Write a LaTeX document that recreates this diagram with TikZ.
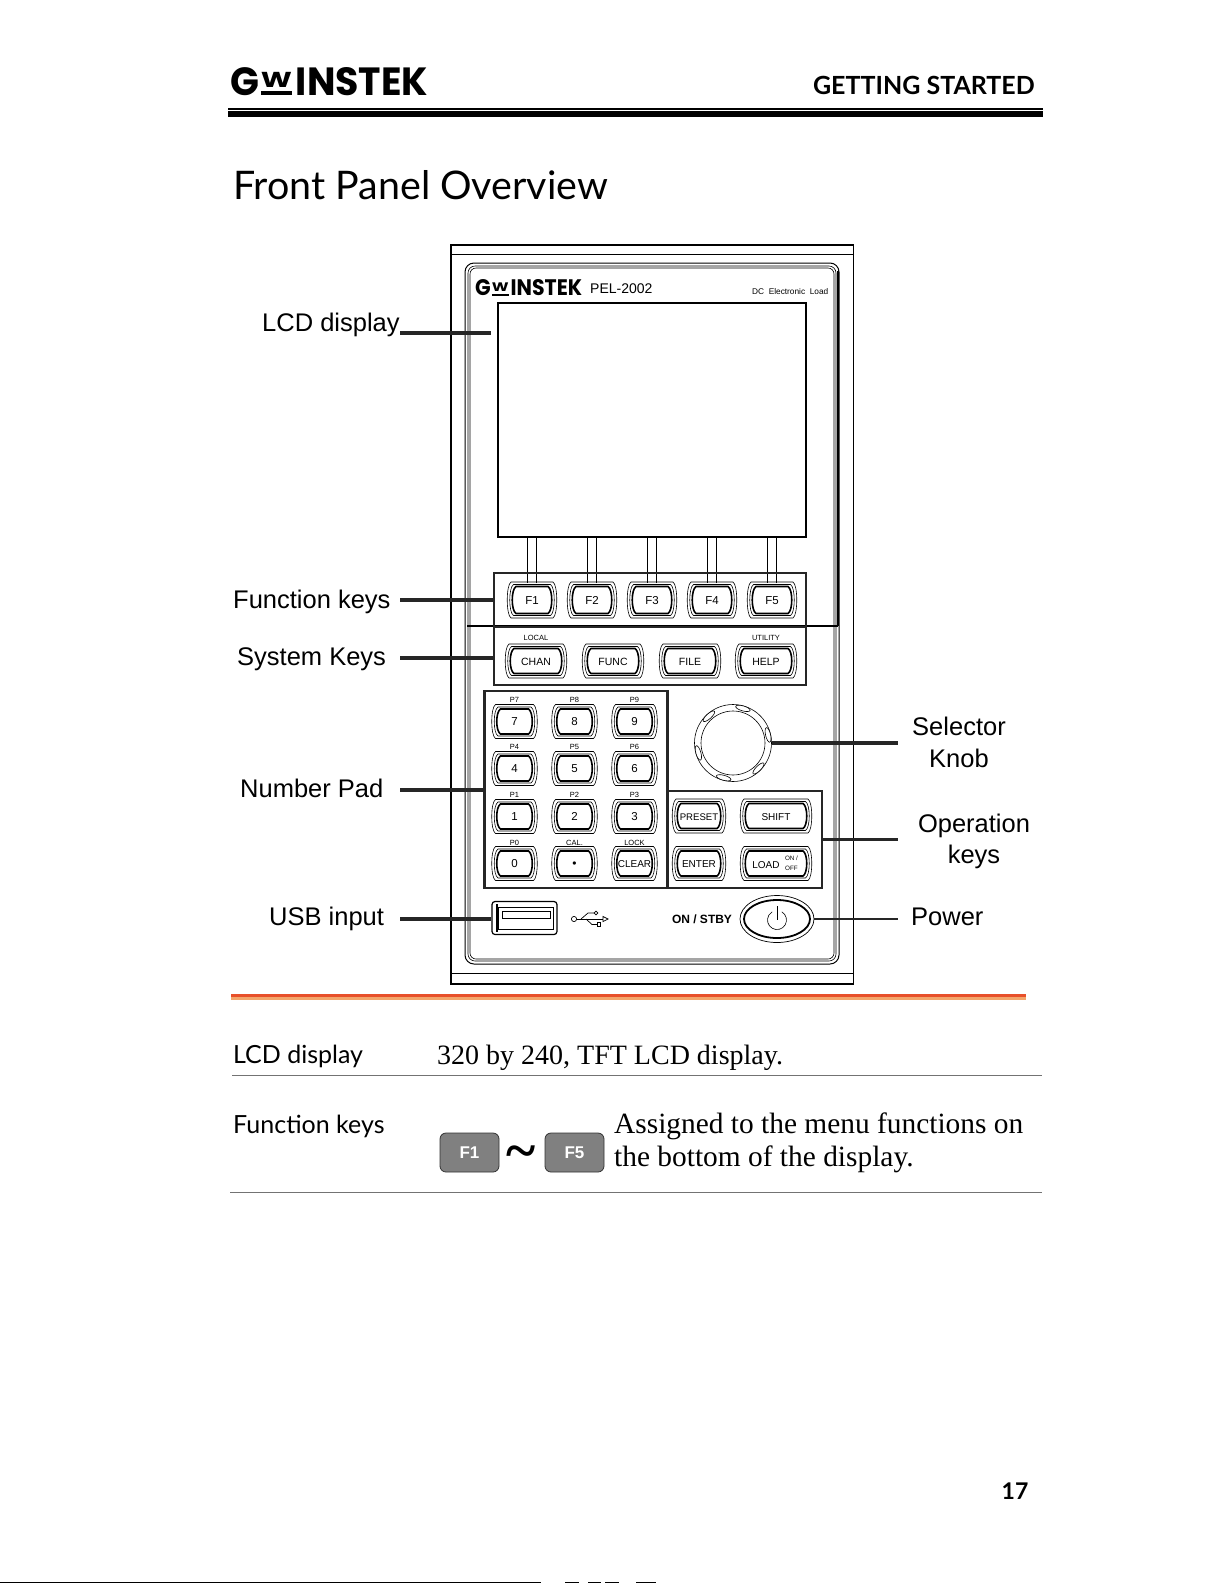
\documentclass[tikz,border=0pt]{standalone}
\usepackage{graphicx}
\usepackage{fontspec}
\setmainfont{Liberation Sans}
\newfontfamily\bodyfont{Liberation Serif}
\newfontfamily\headfont{Lato}
\newfontfamily\logofont{Poppins}
\usetikzlibrary{shapes}
\usetikzlibrary{positioning}
\usetikzlibrary{calc}

\definecolor{rulegray}{gray}{0.45}
\definecolor{keygray}{gray}{0.5}
\definecolor{barred}{HTML}{E8502A}
\definecolor{barorange}{HTML}{F3A66B}

\newcommand{\pts}[1]{\fontsize{#1}{#1}\selectfont}
\newcommand{\gwlogo}[2]{\resizebox{#1pt}{#2pt}{\logofont\bfseries G\kern.05em\ooalign{\raisebox{.2em}{\scalebox{.78}[.55]{W}}\cr\leaders\hrule height .1em\hfill\cr}\kern.1em INSTEK}}
\newcommand{\barrel}[5]{
    \pgfmathsetmacro{\bw}{#4}
    \pgfmathsetmacro{\bh}{#5}
    \draw[#1] (#2+\bw-4,#3-\bh) .. controls (#2+\bw+1,#3-\bh+3) and (#2+\bw+1,#3+\bh-3) .. (#2+\bw-4,#3+\bh) -- (#2-\bw+4,#3+\bh) .. controls (#2-\bw-1,#3+\bh-3) and (#2-\bw-1,#3-\bh+3) .. (#2-\bw+4,#3-\bh) -- cycle;
}
\newcommand{\keycap}[6]{
    \barrel{line width=.6}{#2}{#3}{#4}{#5}
    \barrel{line width=.6}{#2}{#3}{#4-2.5}{#5-2.5}
    \barrel{line width=1.6}{#2}{#3}{#4-5}{#5-4.5}
    \node[keytext] (#1) at (#2,#3) {#6};
}

\tikzset{
    keytext/.style={font=\pts{11.5}, inner sep=0, text height=8, text depth=0},
    toptext/.style={font=\pts{7.5}, inner sep=0},
    panelbox/.style={draw=black!85, line width=2.8, minimum width=10, inner sep=0},
    leader/.style={draw=black!85, line width=3.6},
    calltext/.style={font=\pts{25.5}, inner sep=0, align=center},
    headtext/.style={font=\headfont\pts{25}, inner sep=0, anchor=base west},
    bodytext/.style={font=\bodyfont\pts{29.4}, inner sep=0, anchor=base west},
    greykey/.style={draw=black!80, fill=keygray, rounded corners=6, line width=.8, minimum width=59, minimum height=39, inner sep=0, text=white, font=\bfseries\pts{17}}
}

\begin{document}
\begin{tikzpicture}[x=1pt, y=-1pt]

    \useasboundingbox (0,0) rectangle (1220,1583);

    % page head
    \node[inner sep=0, anchor=west] (logo) at (230,81.5) {\gwlogo{198}{28}};
    \node[inner sep=0, anchor=base east, font=\headfont\bfseries\pts{25}] (chapter) at (1035,94) {GETTING STARTED};
    \fill (228,108) rectangle (1043,110);
    \fill (228,111) rectangle (1043,117);
    \node[inner sep=0, anchor=base west, font=\headfont\pts{39.4}] (title) at (233,199) {Front Panel Overview};

    % panel body
    \draw[line width=1.3] (451,245) rectangle (853.5,984);
    \draw[line width=.8] (451,254) -- (853.5,254);
    \draw[line width=.8] (451,973) -- (853.5,973);
    \draw[line width=1, rounded corners=9] (465,263) rectangle (839,964);
    \draw[line width=.6, rounded corners=7] (468,266) rectangle (836,961);
    \draw[line width=.6, rounded corners=6] (470,268) rectangle (834,959);
    \draw[line width=2] (838,271) -- (838,626);
    \draw[line width=2] (467,626) -- (838,626);

    \node[inner sep=0, anchor=west] (panellogo) at (475,288) {\gwlogo{107}{16}};
    \node[inner sep=0, anchor=west, font=\pts{14}] (model) at (590,288.5) {PEL-2002};
    \node[inner sep=0, anchor=east, font=\pts{8.3}] (series) at (828.5,291.5) {DC\ \ Electronic\ \ Load};

    \node[draw, line width=1.3, minimum width=308, minimum height=234, inner sep=0] (lcd) at (652,420) {};

    % stems under the display
    \foreach \xstem in {531.5,592,652,712,772}{
        \draw[line width=.9] (\xstem-4.5,537) -- (\xstem-4.5,583);
        \draw[line width=.9] (\xstem+4.5,537) -- (\xstem+4.5,583);
    }

    % function keys
    \node[panelbox, minimum width=312, minimum height=54] (fnbox) at (650,600) {};
    \keycap{fone}{532}{600}{25}{18}{F1}
    \keycap{ftwo}{592}{600}{25}{18}{F2}
    \keycap{fthree}{652}{600}{25}{18}{F3}
    \keycap{ffour}{712}{600}{25}{18}{F4}
    \keycap{ffive}{772}{600}{25}{18}{F5}

    % system keys
    \node[panelbox, minimum width=312, minimum height=58] (sysbox) at (650,656) {};
    \keycap{chan}{536}{661}{31}{17}{\pts{10.5}CHAN}
    \keycap{func}{613}{661}{31}{17}{\pts{10.5}FUNC}
    \keycap{file}{690}{661}{31}{17}{\pts{10.5}FILE}
    \keycap{help}{766}{661}{31}{17}{\pts{10.5}HELP}
    \node[toptext] (local) at (536,637.5) {LOCAL};
    \node[toptext] (utility) at (766,637.5) {UTILITY};

    % number pad
    \node[panelbox, minimum width=183, minimum height=197] (numbox) at (576,789.5) {};
    \keycap{seven}{514.5}{721.5}{23}{17}{7}
    \keycap{eight}{574.5}{721.5}{23}{17}{8}
    \keycap{nine}{634.5}{721.5}{23}{17}{9}
    \keycap{four}{514.5}{768.5}{23}{17}{4}
    \keycap{five}{574.5}{768.5}{23}{17}{5}
    \keycap{six}{634.5}{768.5}{23}{17}{6}
    \keycap{one}{514.5}{816.5}{23}{17}{1}
    \keycap{two}{574.5}{816.5}{23}{17}{2}
    \keycap{three}{634.5}{816.5}{23}{17}{3}
    \keycap{zero}{514.5}{863.5}{23}{17}{0}
    \keycap{point}{574.5}{863.5}{23}{17}{\pts{12}\textbullet}
    \keycap{clear}{634.5}{863.5}{23}{17}{\pts{10}CLEAR}
    \node[toptext] (psev) at (514.5,699.5) {P7};
    \node[toptext] (peig) at (574.5,699.5) {P8};
    \node[toptext] (pnin) at (634.5,699.5) {P9};
    \node[toptext] (pfou) at (514.5,747) {P4};
    \node[toptext] (pfiv) at (574.5,747) {P5};
    \node[toptext] (psix) at (634.5,747) {P6};
    \node[toptext] (pone) at (514.5,794.5) {P1};
    \node[toptext] (ptwo) at (574.5,794.5) {P2};
    \node[toptext] (pthr) at (634.5,794.5) {P3};
    \node[toptext] (pzer) at (514.5,842.5) {P0};
    \node[toptext] (cal) at (574.5,842.5) {CAL.};
    \node[toptext] (lock) at (634.5,842.5) {LOCK};

    % selector knob
    \node[draw, circle, line width=.6, minimum size=77, inner sep=0] (knob) at (733,743) {};
    \draw[line width=.6] (733,743) circle (32);
    \foreach \angknob in {132,74,13,-45,-105,196}{
        \draw[line width=.6, fill=white, rotate around={\angknob:(733,743)}] (769,743) ellipse [x radius=2.5, y radius=7.5];
    }

    % operation keys
    \node[panelbox, minimum width=154, minimum height=97] (opbox) at (745,839.5) {};
    \keycap{preset}{699}{816}{27}{17}{\pts{9.6}PRESET}
    \keycap{shift}{776}{816}{36}{17}{\pts{10}SHIFT}
    \keycap{enter}{699}{863.5}{27}{17}{\pts{10}ENTER}
    \keycap{load}{776}{863.5}{36}{17}{}
    \node[keytext, font=\pts{10}] (loadtext) at (766,864) {LOAD};
    \node[toptext, font=\pts{6.3}] (loadon) at (791.5,858.5) {ON /};
    \node[toptext, font=\pts{6.3}] (loadoff) at (791.5,868) {OFF};

    % usb port and its mark
    \node[draw, line width=1.2, rounded corners=3, minimum width=65, minimum height=33, inner sep=0] (usb) at (524.5,918) {};
    \draw[line width=.7] (498,907) rectangle (553,929);
    \draw[line width=.9] (502,911.5) rectangle (550,918);
    \draw[line width=2] (497,904) -- (497,932);
    \draw[line width=.7] (574,919) circle (2.6);
    \draw[line width=.7] (576.6,919) -- (603,919);
    \draw[line width=.7] (581,919) -- (588,913) -- (594,913);
    \draw[line width=.7] (596,913) circle (1.8);
    \draw[line width=.7] (586,919) -- (592,924.5) -- (597,924.5);
    \draw[line width=.7] (597,922.7) rectangle (600.5,926.2);
    \draw[line width=.7] (603,916.5) -- (608,919) -- (603,921.5) -- cycle;

    % power switch
    \node[inner sep=0, font=\bfseries\pts{12}] (stby) at (702,919) {ON\ / STBY};
    \node[draw, ellipse, line width=.7, minimum width=74, minimum height=47, inner sep=0] (power) at (777,919) {};
    \draw[line width=1.8] (777,919) ellipse [x radius=33, y radius=19];
    \draw[line width=.6] (781.75,911.8) arc [start angle=-60, end angle=240, radius=9.5];
    \draw[line width=.6] (777,906) -- (777,920);

    % leaders
    \coordinate (lcdfrom) at (400,333);
    \coordinate (lcdto) at (491,333);
    \coordinate (fnfrom) at (400,600);
    \coordinate (sysfrom) at (400,658);
    \coordinate (numfrom) at (400,790);
    \coordinate (usbfrom) at (400,919);
    \coordinate (knobto) at (898,743);
    \coordinate (opto) at (898,839.5);
    \coordinate (powerto) at (898,919);
    \draw[leader] (lcdfrom) -- (lcdto);
    \draw[leader] (fnfrom) -- (fnbox.west);
    \draw[leader] (sysfrom) -- (sysfrom -| sysbox.west);
    \draw[leader] (numfrom) -- (numfrom -| numbox.west);
    \draw[leader] (usbfrom) -- (usbfrom -| usb.west);
    \draw[leader] (knob.east) -- (knobto);
    \draw[leader, line width=2.6] (opbox.east) -- (opto);
    \draw[leader, line width=2.6] (power.east) -- (powerto);

    % callouts
    \node[calltext, anchor=west] (calllcd) at (262,325) {LCD display};
    \node[calltext, anchor=west] (callfn) at (233,602) {Function keys};
    \node[calltext, anchor=west] (callsys) at (237,659) {System Keys};
    \node[calltext, anchor=west] (callnum) at (240,788) {Number Pad};
    \node[calltext, anchor=west] (callusb) at (269,919) {USB input};
    \node[calltext] (callknob) at (959,742.5) {Selector\\[6pt]Knob};
    \node[calltext] (callop) at (974,841.5) {Operation\\[6pt]keys};
    \node[calltext, anchor=west] (callpower) at (911,917) {Power};

    % orange bar
    \fill[barred] (231,994) rectangle (1026,997);
    \fill[barorange] (231,997) rectangle (1026,1000);

    % description table
    \node[headtext] (rowlcd) at (233,1063) {LCD display};
    \node[bodytext, font=\bodyfont\pts{28}] (textlcd) at (437,1064) {320 by 240, TFT LCD display.};
    \draw[rulegray, line width=1] (232,1075.5) -- (1042,1075.5);
    \node[headtext] (rowfn) at (233,1133) {Function keys};
    \node[greykey] (greyfone) at (469.5,1152.5) {F1};
    \node[inner sep=0, font=\bodyfont\bfseries\pts{56}] (tilde) at (521,1158) {\textasciitilde};
    \node[greykey] (greyffive) at (574.5,1152.5) {F5};
    \node[bodytext] (textfna) at (614,1133) {Assigned to the menu functions on};
    \node[bodytext] (textfnb) at (614,1166) {the bottom of the display.};
    \draw[rulegray, line width=1] (230,1192.5) -- (1042,1192.5);

    % page foot
    \node[inner sep=0, font=\headfont\bfseries\pts{23}] (pagenum) at (1015,1491) {17};
    \draw[line width=1.2] (0,1582.4) -- (541,1582.4);
    \draw[line width=1.2] (565,1582.4) -- (579,1582.4);
    \draw[line width=1.2] (588,1582.4) -- (601,1582.4);
    \draw[line width=1.2] (605,1582.4) -- (619,1582.4);
    \draw[line width=1.2] (636,1582.4) -- (656,1582.4);

\end{tikzpicture}
\end{document}
